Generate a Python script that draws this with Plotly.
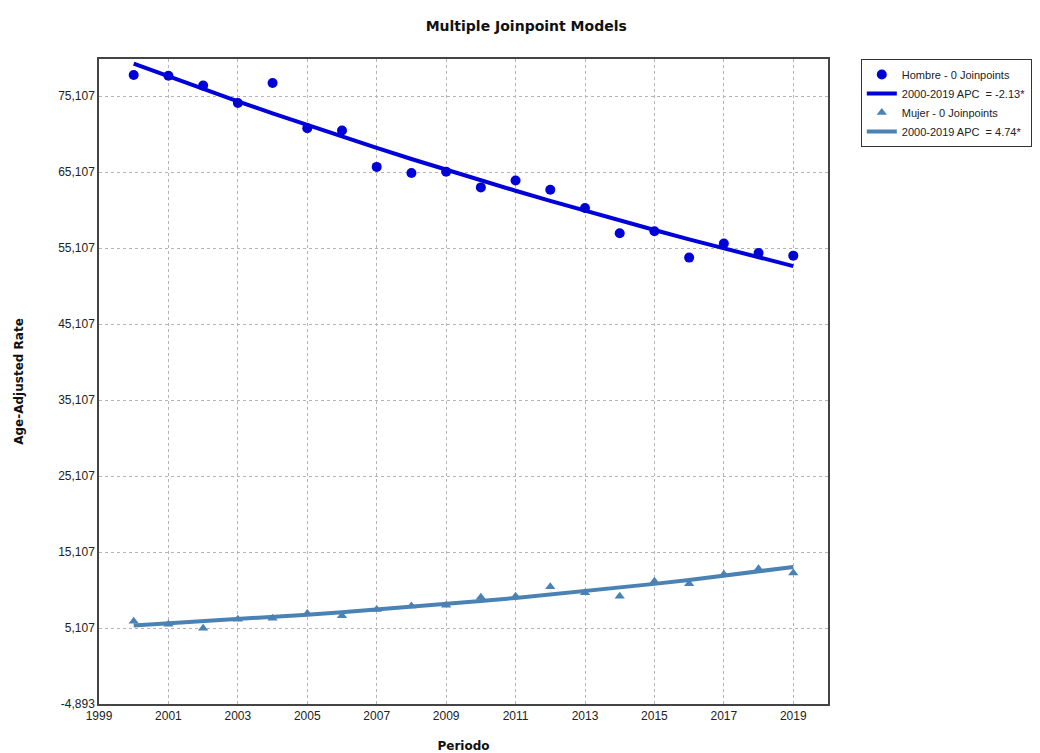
import plotly.graph_objects as go

years = list(range(2000, 2020))

hombre_obs = [77900, 77800, 76500, 74200, 76850, 70900, 70600, 65800, 65000, 65150,
              63100, 64000, 62800, 60400, 57070, 57330, 53860, 55710, 54470, 54120]
hombre_fit = [79400, 77709, 76054, 74434, 72848, 71297, 69778, 68292, 66837, 65414,
              64020, 62657, 61322, 60016, 58738, 57487, 56262, 55064, 53891, 52743]

mujer_obs = [6000, 5600, 5080, 6250, 6380, 7030, 6730, 7550, 8000, 8120,
             9170, 9300, 10530, 9740, 9300, 11260, 10920, 12180, 12920, 12350]
mujer_fit = [5450, 5708, 5979, 6262, 6559, 6870, 7196, 7537, 7894, 8268,
             8660, 9071, 9501, 9951, 10423, 10917, 11435, 11977, 12545, 13140]

x_ticks = list(range(1999, 2020, 2))
y_ticks = [-4893, 5107, 15107, 25107, 35107, 45107, 55107, 65107, 75107]
y_ticklabels = ["-4,893", "5,107", "15,107", "25,107", "35,107", "45,107", "55,107", "65,107", "75,107"]

blue = "#0000d8"
steel = "#4a82b4"

fig = go.Figure()
fig.add_trace(go.Scatter(x=years, y=hombre_obs, mode="markers", name="Hombre - 0 Joinpoints",
                         marker=dict(symbol="circle", size=10, color=blue)))
fig.add_trace(go.Scatter(x=years, y=hombre_fit, mode="lines", name="2000-2019 APC  = -2.13*",
                         line=dict(color=blue, width=4)))
fig.add_trace(go.Scatter(x=years, y=mujer_obs, mode="markers", name="Mujer - 0 Joinpoints",
                         marker=dict(symbol="triangle-up", size=9, color=steel)))
fig.add_trace(go.Scatter(x=years, y=mujer_fit, mode="lines", name="2000-2019 APC  = 4.74*",
                         line=dict(color=steel, width=4)))

axis_common = dict(showline=True, linecolor="#444444", linewidth=1.5, mirror=True,
                   showgrid=True, gridcolor="#b4b4b4", griddash="dot", gridwidth=1,
                   zeroline=False, ticks="", automargin=False,
                   tickfont=dict(family="Liberation Sans, Arial", size=12, color="#222"))

fig.update_layout(
    width=1040, height=753,
    margin=dict(l=99, r=212, t=59, b=49, autoexpand=False),
    paper_bgcolor="white", plot_bgcolor="white",
    title=dict(text="<b>Multiple Joinpoint Models</b>", x=0.506, xref="container", y=0.966, yref="container",
               xanchor="center", yanchor="middle",
               font=dict(family="DejaVu Sans", size=14, color="#111")),
    xaxis=dict(range=[1999, 2020], tickvals=x_ticks,
               title=dict(text="<b>Periodo</b>", font=dict(family="DejaVu Sans", size=12, color="#111"), standoff=22),
               **axis_common),
    yaxis=dict(range=[-4893, 80000], tickvals=y_ticks, ticktext=y_ticklabels,
               title=dict(text="<b>Age-Adjusted Rate</b>", font=dict(family="DejaVu Sans", size=12, color="#111"), standoff=32),
               **axis_common),
    legend=dict(x=1.045, xanchor="left", y=1.0, yanchor="top", bordercolor="#333", borderwidth=1,
                bgcolor="white", font=dict(family="Liberation Sans, Arial", size=11, color="#222"),
                tracegroupgap=0, itemwidth=30),
    showlegend=True,
)

fig.write_html("out.html")
